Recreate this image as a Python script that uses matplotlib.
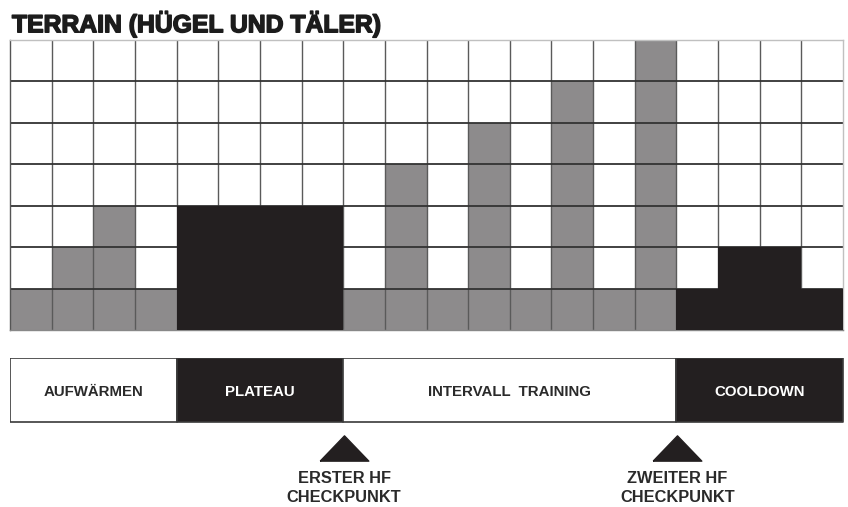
import matplotlib
matplotlib.use("Agg")
import matplotlib.pyplot as plt
from matplotlib import patheffects as pe

# ---- data ----
title = "TERRAIN (HÜGEL UND TÄLER)"
heights = [1, 2, 3, 1, 3, 3, 3, 3, 1, 4, 1, 5, 1, 6, 1, 7, 1, 2, 2, 1]
n_rows = 7
phase_names = ["AUFWÄRMEN", "PLATEAU", "INTERVALL  TRAINING", "COOLDOWN"]
phase_starts = [0, 4, 8, 16]
phase_lengths = [4, 4, 8, 4]
phase_dark = [False, True, False, True]
checkpoints = [8, 16]
checkpoint_labels = ["ERSTER HF\nCHECKPUNKT", "ZWEITER HF\nCHECKPUNKT"]

GRAY = "#8d8b8c"
BLACK = "#231f20"
FONT = "Liberation Sans"

W, H = 848, 507
fig = plt.figure(figsize=(W / 100, H / 100), dpi=100)

def fax(x0, y0, x1, y1):
    return fig.add_axes([x0 / W, 1 - y1 / H, (x1 - x0) / W, (y1 - y0) / H])

# ---- main grid ----
ax = fax(10, 40, 843, 330)
dark_cols = []
for s, l, d in zip(phase_starts, phase_lengths, phase_dark):
    dark_cols += [d] * l
xs = list(range(len(heights)))
gx = [x for x, d in zip(xs, dark_cols) if not d]
gh = [h for h, d in zip(heights, dark_cols) if not d]
bx = [x for x, d in zip(xs, dark_cols) if d]
bh = [h for h, d in zip(heights, dark_cols) if d]
ax.bar(gx, gh, width=1.0, align="edge", color=GRAY, linewidth=0, zorder=1)
ax.bar(bx, bh, width=1.0, align="edge", color=BLACK, linewidth=0, zorder=3)
ax.set_xlim(0, len(heights))
ax.set_ylim(0, n_rows)
for x in range(1, len(heights)):
    ax.axvline(x, color="#5a5a5a", lw=1.0, zorder=2)
for y in range(1, n_rows):
    ax.axhline(y, color="#333333", lw=1.3, zorder=2)
ax.set_xticks([]); ax.set_yticks([])
for side, sp in ax.spines.items():
    sp.set_color("#c0c0c0")
    sp.set_linewidth(1.0)
ax.spines["left"].set_color("#555555")
ax.spines["bottom"].set_color("#888888")

fig.text(12 / W, 1 - 23.5 / H, title, fontsize=17.8, fontweight="bold",
         family=FONT, va="center", ha="left", color="#1c1c1c",
         path_effects=[pe.withStroke(linewidth=1.1, foreground="#1c1c1c")])

# ---- phase bar ----
pax = fax(10, 358, 843, 422)
pax.set_xlim(0, len(heights)); pax.set_ylim(0, 1)
for s, l, d, nm in zip(phase_starts, phase_lengths, phase_dark, phase_names):
    pax.broken_barh([(s, l)], (0, 1), facecolors=BLACK if d else "white",
                    edgecolor="#3a3a3a", linewidth=1.2)
    pax.text(s + l / 2, 0.47, nm, ha="center", va="center", fontsize=10.8,
             fontweight="bold", family=FONT,
             color="white" if d else "#2a2a2a")
pax.axis("off")

# ---- checkpoints ----
cax = fax(10, 430, 843, 507)
cax.set_xlim(0, len(heights)); cax.set_ylim(0, 77)
cax.axis("off")
tri = [(-1.0, -0.52), (1.0, -0.52), (0.0, 0.52), (-1.0, -0.52)]
for c, lab in zip(checkpoints, checkpoint_labels):
    cax.plot([c + 0.02], [59], marker=tri, markersize=35, color=BLACK,
             linestyle="none", clip_on=False)
    cax.text(c + 0.02, 19, lab, ha="center", va="center", fontsize=11.8,
             fontweight="bold", family=FONT, color="#2a2a2a", linespacing=1.3)

fig.savefig("out.png", dpi=100, facecolor="white")
